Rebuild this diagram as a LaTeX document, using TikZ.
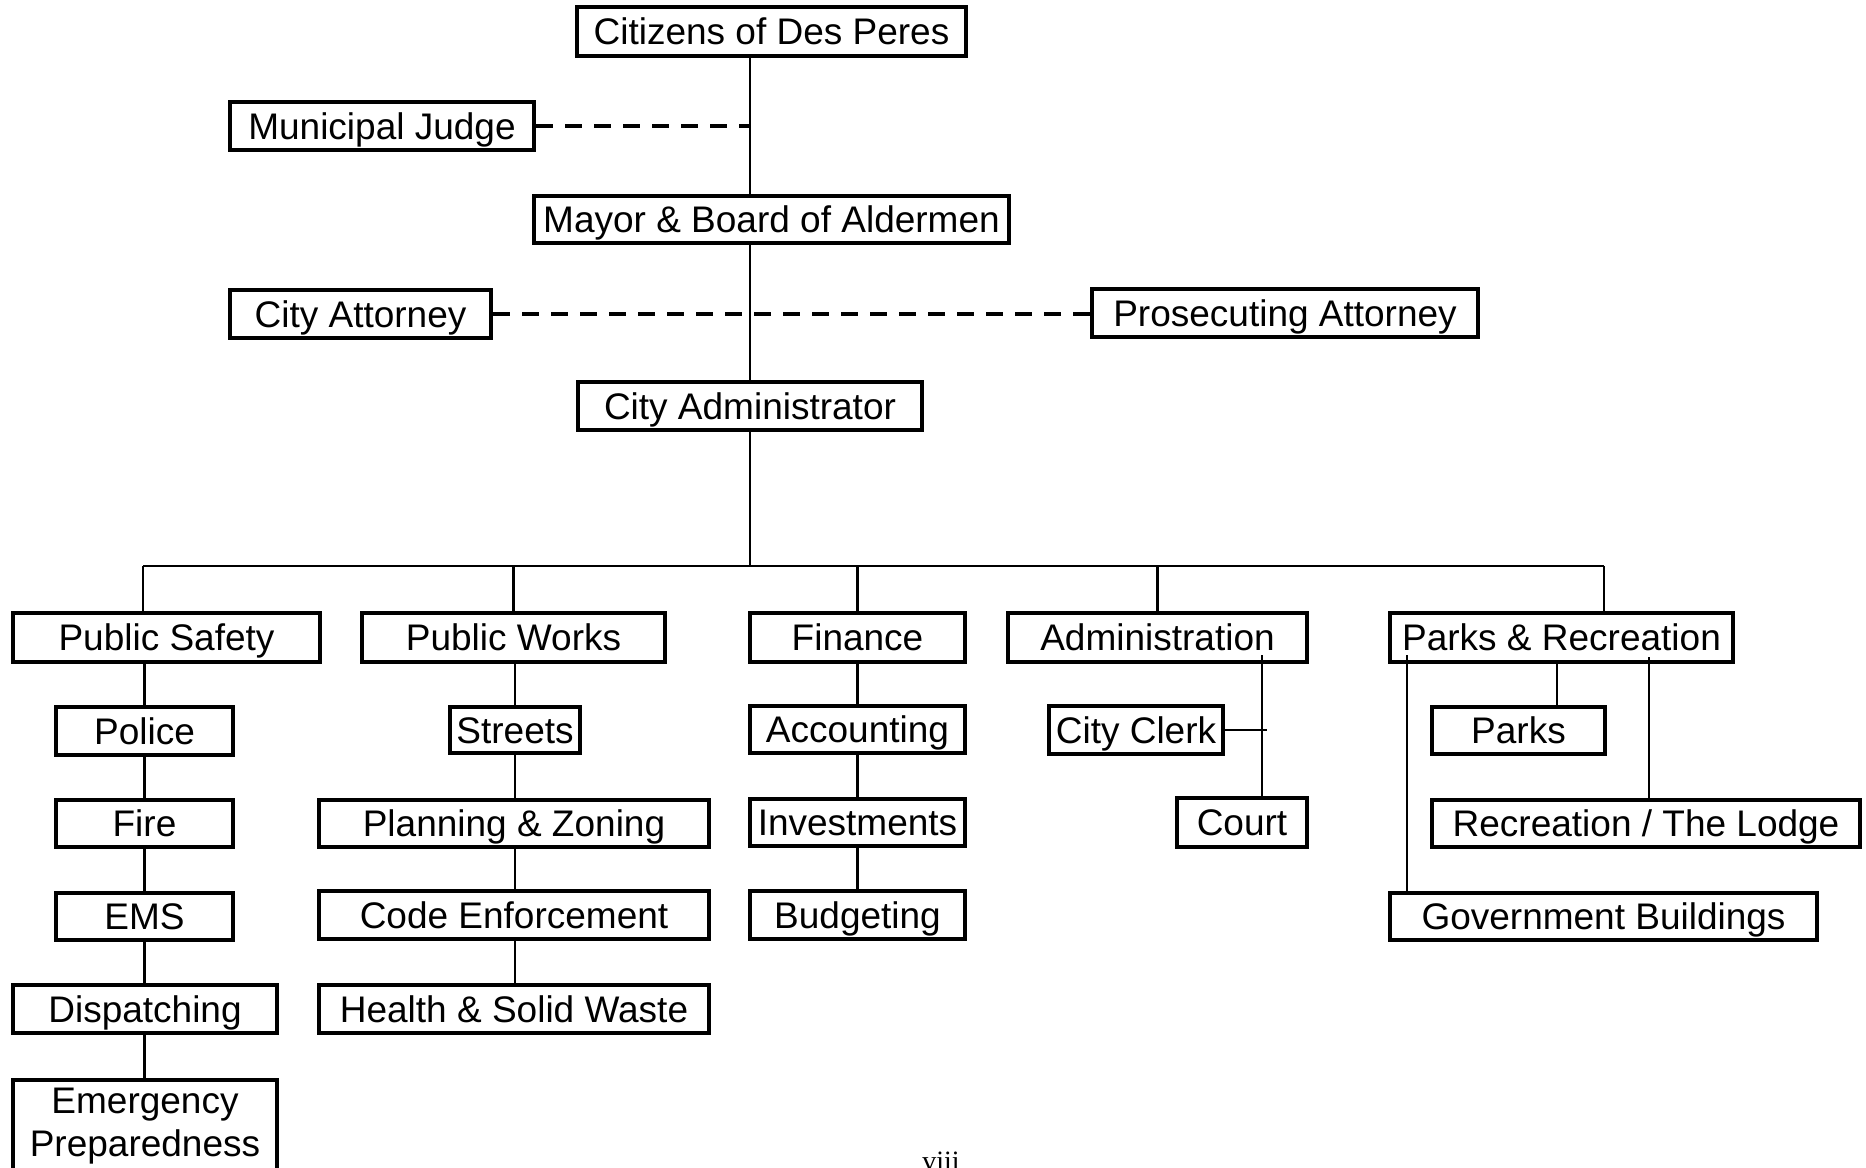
\documentclass[tikz,border=0pt]{standalone}
\usepackage{fontspec}
\setmainfont{Liberation Sans}
\newfontfamily\pgnumfont{Liberation Serif}
\tikzset{
  bx/.style={draw, line width=2pt, inner sep=0pt,
    font=\fontsize{18.5}{22}\selectfont, text height=13.25pt, text depth=0pt},
  txt/.style={inner sep=0pt, font=\fontsize{18.5}{22}\selectfont},
  conn/.style={line width=1.4pt},
  dsh/.style={line width=1.6pt, dash pattern=on 8.5pt off 6pt},
}
\newcommand\mkbox[6]{%
  \pgfmathsetmacro\cxa{(#2+#4)/2}\pgfmathsetmacro\cya{(#3+#5)/2}%
  \pgfmathsetmacro\wa{(#4-#2)*0.5}\pgfmathsetmacro\ha{(#5-#3)*0.5}%
  \node[bx, minimum width=\wa pt, minimum height=\ha pt] (#1) at (\cxa,\cya) {#6};}
\begin{document}
\begin{tikzpicture}[x=0.5pt,y=-0.5pt]
\clip (0,0) rectangle (1866,1167);
\fill[white] (0,0) rectangle (1866,1167);

% top levels
\mkbox{cit}{577}{7}{966}{56}{Citizens of Des Peres}
\mkbox{mj}{230}{102}{534}{150}{Municipal Judge}
\mkbox{may}{534}{196}{1009}{243}{Mayor \& Board of Aldermen}
\mkbox{ca}{230}{290}{491}{338}{City Attorney}
\mkbox{pa}{1092}{289}{1478}{337}{Prosecuting Attorney}
\mkbox{adm}{578}{382}{922}{430}{City Administrator}

% departments
\mkbox{ps}{13}{613}{320}{662}{Public Safety}
\mkbox{pw}{362}{613}{665}{662}{Public Works}
\mkbox{fin}{750}{613}{965}{662}{Finance}
\mkbox{adn}{1008}{613}{1307}{662}{Administration}
\mkbox{pr}{1390}{613}{1733}{662}{Parks \& Recreation}

% column 1
\mkbox{po}{56}{707}{233}{755}{Police}
\mkbox{fi}{56}{800}{233}{847}{Fire}
\mkbox{ems}{56}{893}{233}{940}{EMS}
\mkbox{dis}{13}{985}{277}{1033}{Dispatching}
\mkbox{ep}{13}{1080}{277}{1185}{}
\node[txt, anchor=base] (ep1) at (145,1113) {Emergency};
\node[txt, anchor=base] (ep2) at (145,1156) {Preparedness};

% column 2
\mkbox{st}{450}{707}{580}{753}{Streets}
\mkbox{pz}{319}{800}{709}{847}{Planning \& Zoning}
\mkbox{ce}{319}{891}{709}{939}{Code Enforcement}
\mkbox{hw}{319}{985}{709}{1033}{Health \& Solid Waste}

% column 3
\mkbox{ac}{750}{706}{965}{753}{Accounting}
\mkbox{inv}{750}{799}{965}{846}{Investments}
\mkbox{bud}{750}{891}{965}{939}{Budgeting}

% column 4
\mkbox{cc}{1049}{706}{1223}{754}{City Clerk}
\mkbox{co}{1177}{798}{1307}{847}{Court}

% column 5
\mkbox{pk}{1432}{707}{1605}{754}{Parks}
\mkbox{rl}{1432}{800}{1860}{847}{Recreation / The Lodge}
\mkbox{gb}{1390}{893}{1817}{940}{Government Buildings}

% page number
\node[inner sep=0pt, anchor=base, font=\pgnumfont\fontsize{14}{16}\selectfont] (pg) at (941,1170) {viii};

% helper coordinates
\coordinate (busL) at (143,566);
\coordinate (busR) at (1604,566);
\coordinate (admv) at (1262,655);
\coordinate (ccend) at (1267,730);
\coordinate (prl) at (1407,655);
\coordinate (prm) at (1557,662);
\coordinate (prr) at (1649,657);

% main spine
\draw[conn] (cit.south -| adm.north) -- (may.north -| adm.north);
\draw[conn] (may.south -| adm.north) -- (adm.north);
\draw[conn] (adm.south) -- (adm.south |- busL);
\draw[dsh] (mj.east) -- (mj.east -| adm.north);
\draw[dsh] (ca.east) -- (ca.east -| pa.west);

% bus and drops
\draw[conn] (busL) -- (busR);
\draw[conn] (busL) -- (busL |- ps.north);
\draw[conn] (pw.north |- busL) -- (pw.north);
\draw[conn] (fin.north |- busL) -- (fin.north);
\draw[conn] (adn.north |- busL) -- (adn.north);
\draw[conn] (busR) -- (busR |- pr.north);

% column 1
\draw[conn] (ps.south -| po.north) -- (po.north);
\draw[conn] (po.south) -- (fi.north);
\draw[conn] (fi.south) -- (ems.north);
\draw[conn] (ems.south) -- (dis.north -| ems.south);
\draw[conn] (dis.south -| ems.south) -- (ep.north -| ems.south);

% column 2
\draw[conn] (pw.south -| st.north) -- (st.north);
\draw[conn] (st.south) -- (pz.north -| st.south);
\draw[conn] (pz.south -| st.south) -- (ce.north -| st.south);
\draw[conn] (ce.south -| st.south) -- (hw.north -| st.south);

% column 3
\draw[conn] (fin.south) -- (ac.north);
\draw[conn] (ac.south) -- (inv.north);
\draw[conn] (inv.south) -- (bud.north);

% column 4
\draw[conn] (admv) -- (admv |- co.north);
\draw[conn] (cc.east) -- (cc.east -| ccend);

% column 5
\draw[conn] (prl) -- (prl |- gb.north);
\draw[conn] (prm) -- (prm |- pk.north);
\draw[conn] (prr) -- (prr |- rl.north);
\end{tikzpicture}
\end{document}
